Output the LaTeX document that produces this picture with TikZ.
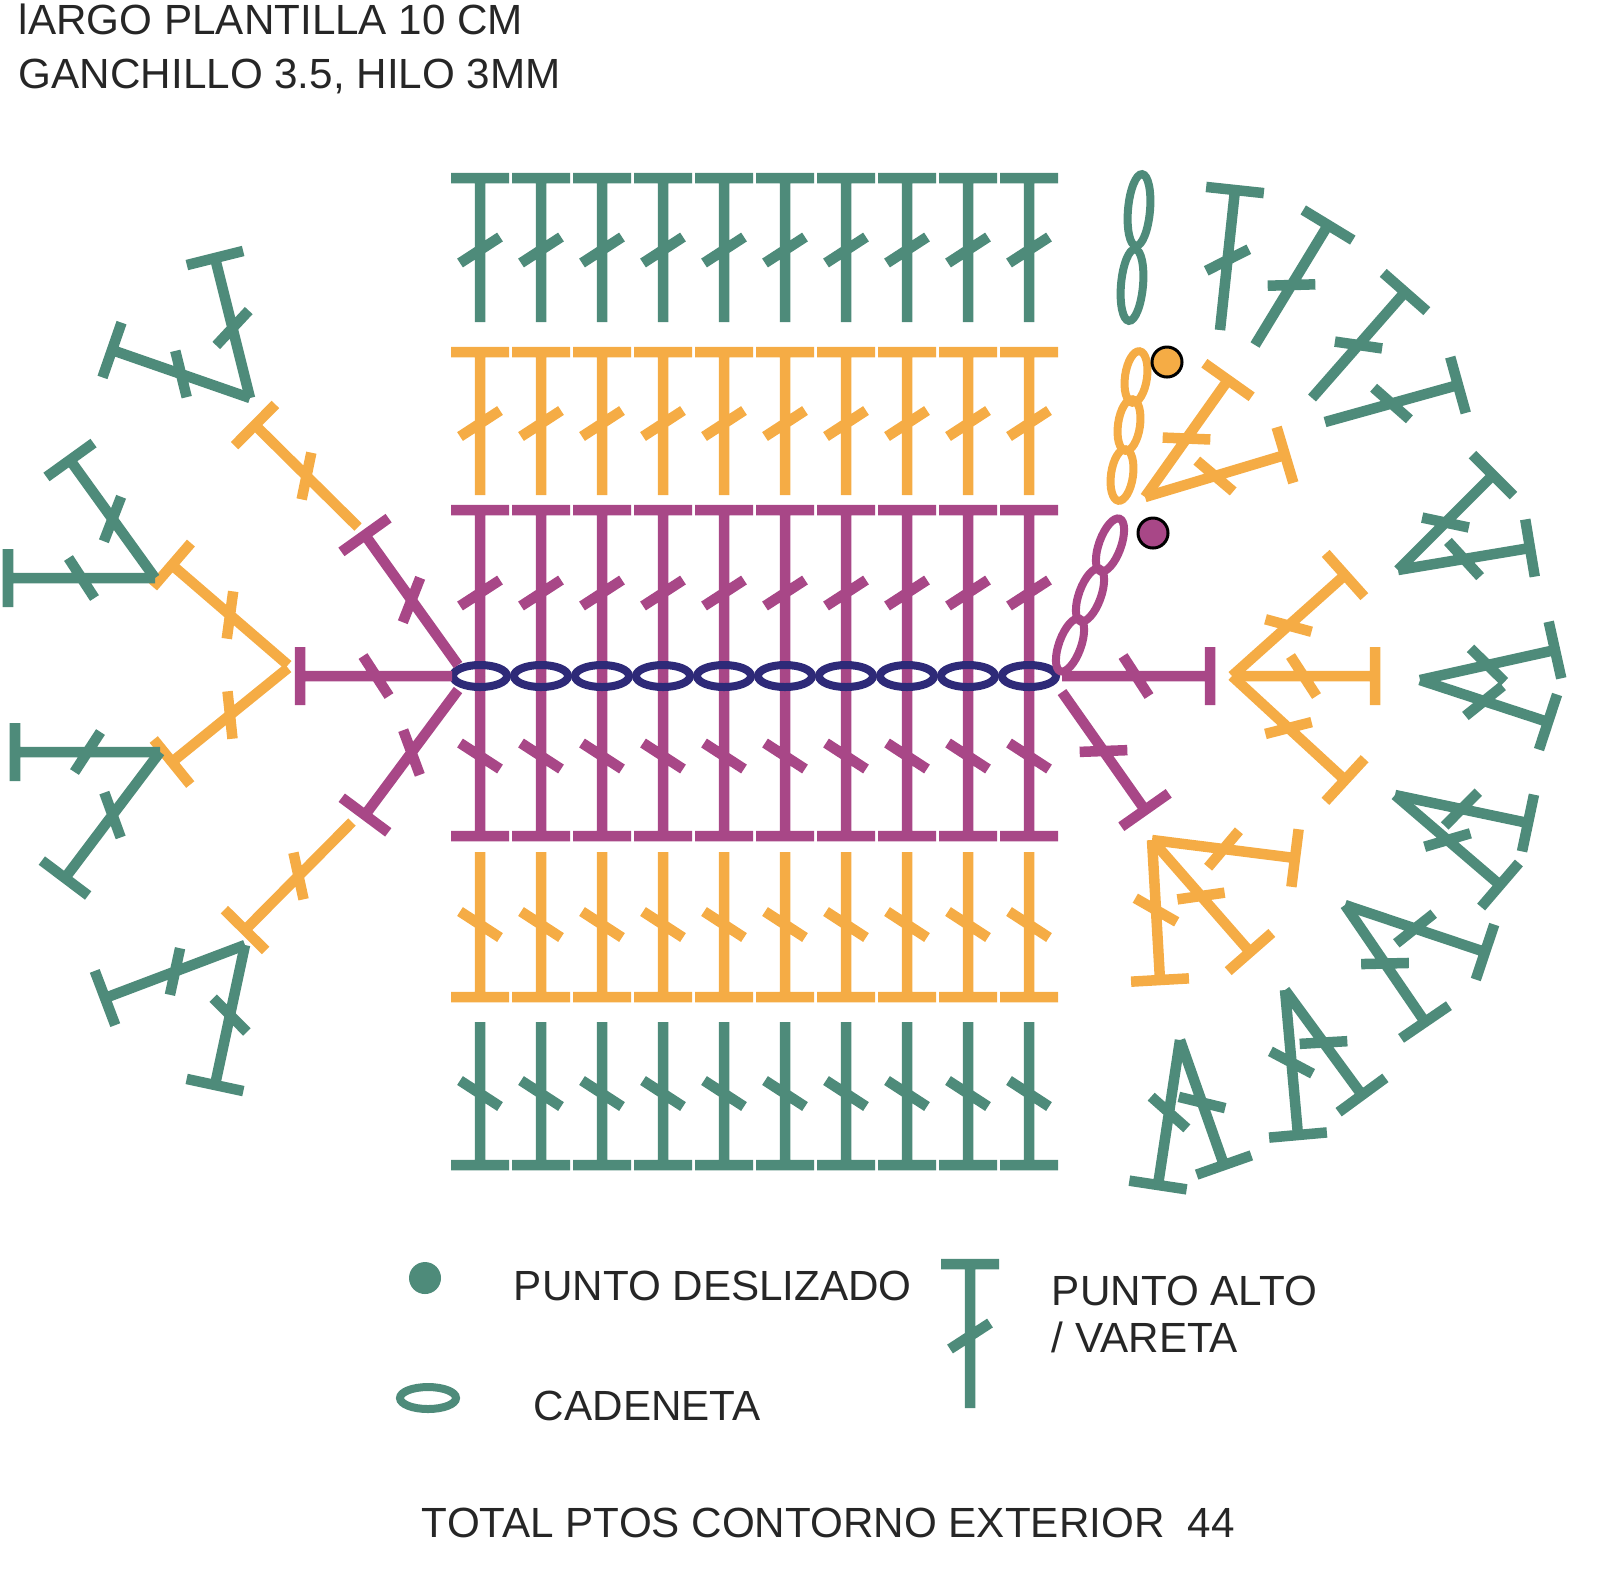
\documentclass[tikz,border=0pt]{standalone}
\usepackage{fontspec}
\setmainfont{Liberation Sans}
\definecolor{stgreen}{HTML}{4E8B7A}
\definecolor{storange}{HTML}{F5AC45}
\definecolor{stmagenta}{HTML}{A84787}
\definecolor{stnavy}{HTML}{2E2A78}
% double crochet: colour, base x y, top x y (pixels), optional slash sign
\newcommand\dc[6][1]{%
  \pgfmathsetmacro\dcang{atan2(-(#6-#4),#5-#3)}%
  \pgfmathsetmacro\dclen{veclen(#5-#3,#6-#4)}%
  \begin{scope}[shift={(#3,#4)},rotate=\dcang]
    \draw[#2] (0,0)--(\dclen,0) (\dclen,-29)--(\dclen,29)
      (0.5*\dclen-13,-20*#1)--(0.5*\dclen+13,20*#1);
  \end{scope}}
% chain link: colour, centre x y, angle, half length
\newcommand\chainlink[5]{%
  \draw[#1,line width=0.8mm] (#2,#3) ellipse [x radius=#5, y radius=11, rotate=#4];}
\begin{document}
\begin{tikzpicture}[x=0.01cm,y=-0.01cm,line width=1.05mm,
  txt/.style={anchor=base west,font=\fontsize{12}{14}\selectfont,text=black!85}]
\useasboundingbox (0,0) rectangle (1600,1568);

% Header
\node[txt] (title1) at (2,34) {lARGO PLANTILLA 10 CM};
\node[txt] (title2) at (2,88) {GANCHILLO 3.5, HILO 3MM};

% Centre rows
\foreach \i in {0,...,9}{
  \pgfmathsetmacro\cx{480+61*\i}
  \dc{stmagenta}{\cx}{676}{\cx}{510}
  \dc{storange}{\cx}{495}{\cx}{352}
  \dc{stgreen}{\cx}{322}{\cx}{178}
  \dc[-1]{stmagenta}{\cx}{676}{\cx}{836}
  \dc[-1]{storange}{\cx}{852}{\cx}{997}
  \dc[-1]{stgreen}{\cx}{1022}{\cx}{1165}
  \chainlink{stnavy}{\cx}{676}{0}{27}
}

% Left fan
\dc{stmagenta}{452}{676}{300}{676}
\dc{stmagenta}{458}{665}{365}{535}
\dc[-1]{stmagenta}{458}{690}{365}{815}
\dc{storange}{358}{527}{255}{425}
\dc[-1]{storange}{352}{822}{245}{930}
\dc{storange}{288}{665}{172}{565}
\dc[-1]{storange}{288}{668}{172}{762}
\dc{stgreen}{250}{398}{215}{258}
\dc{stgreen}{250}{398}{112}{350}
\dc{stgreen}{155}{578}{70}{460}
\dc{stgreen}{155}{578}{8}{578}
\dc[-1]{stgreen}{160}{752}{15}{752}
\dc[-1]{stgreen}{160}{752}{65}{878}
\dc[-1]{stgreen}{245}{945}{105}{998}
\dc[-1]{stgreen}{245}{945}{215}{1085}

% Right turning chains and slip stitches
\chainlink{stmagenta}{1070}{645}{70}{28}
\chainlink{stmagenta}{1090}{595}{70}{28}
\chainlink{stmagenta}{1110}{545}{70}{28}
\chainlink{storange}{1122}{475}{82}{26}
\chainlink{storange}{1129}{425}{82}{26}
\chainlink{storange}{1136}{377}{82}{26}
\chainlink{stgreen}{1132}{285}{85}{36}
\chainlink{stgreen}{1139}{210}{85}{36}
\filldraw[fill=storange,draw=black,line width=0.3mm] (1167,362) circle (15);
\filldraw[fill=stmagenta,draw=black,line width=0.3mm] (1153,533) circle (15);

% Right fan
\dc{stmagenta}{1062}{676}{1210}{676}
\dc[-1]{stmagenta}{1062}{692}{1145}{810}
\dc{storange}{1145}{497}{1228}{380}
\dc{storange}{1145}{497}{1285}{455}
\dc{storange}{1232}{676}{1345}{575}
\dc{storange}{1232}{676}{1375}{676}
\dc[-1]{storange}{1232}{676}{1345}{780}
\dc[-1]{storange}{1152}{840}{1295}{858}
\dc[-1]{storange}{1152}{840}{1250}{952}
\dc[-1]{storange}{1152}{840}{1160}{980}
\dc{stgreen}{1220}{330}{1235}{190}
\dc{stgreen}{1255}{345}{1328}{225}
\dc{stgreen}{1312}{398}{1405}{292}
\dc{stgreen}{1325}{422}{1458}{385}
\dc{stgreen}{1398}{570}{1493}{475}
\dc{stgreen}{1398}{570}{1530}{548}
\dc{stgreen}{1420}{680}{1555}{650}
\dc[-1]{stgreen}{1420}{680}{1548}{722}
\dc[-1]{stgreen}{1395}{795}{1528}{823}
\dc[-1]{stgreen}{1395}{795}{1500}{885}
\dc[-1]{stgreen}{1345}{905}{1485}{952}
\dc[-1]{stgreen}{1345}{905}{1425}{1022}
\dc[-1]{stgreen}{1285}{990}{1362}{1095}
\dc[-1]{stgreen}{1285}{990}{1298}{1135}
\dc[-1]{stgreen}{1180}{1040}{1224}{1165}
\dc[-1]{stgreen}{1180}{1040}{1158}{1185}

% Legend
\fill[stgreen] (425,1278) circle (16);
\node[txt] (slip) at (497,1300) {PUNTO DESLIZADO};
\chainlink{stgreen}{428}{1398}{0}{28}
\node[txt] (chain) at (517,1420) {CADENETA};
\dc{stgreen}{970}{1408}{970}{1264}
\node[txt] (dclabel) at (1035,1305) {PUNTO ALTO};
\node[txt] (dclabel2) at (1035,1352) {/ VARETA};
\node[txt] (total) at (405,1537) {TOTAL PTOS CONTORNO EXTERIOR\ \ 44};
\end{tikzpicture}
\end{document}
